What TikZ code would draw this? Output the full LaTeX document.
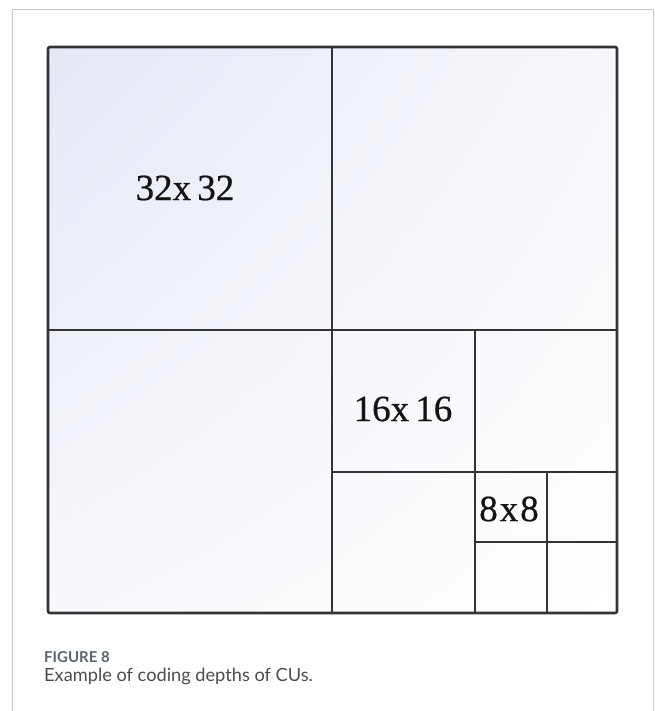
\documentclass[tikz,border=0pt]{standalone}
\usepackage{fontspec}
\usetikzlibrary{shadings}
\setmainfont{Liberation Serif}
\newfontfamily\capfont{Lato}
\newfontfamily\lblfont[FakeBold=0.6]{Liberation Serif}
\definecolor{tint}{RGB}{228,232,244}
\definecolor{tintb}{RGB}{247,248,252}
\definecolor{capblue}{RGB}{90,100,115}
\definecolor{frame}{RGB}{200,200,200}
\begin{document}
\begin{tikzpicture}[x=1pt,y=-1pt,
  grid/.style={draw=black!80, line width=2.6pt},
  lbl/.style={font=\lblfont\fontsize{37}{40}\selectfont, text=black!92, inner sep=0pt},
  captext/.style={anchor=base west, inner sep=0pt}]
\useasboundingbox (0,0) rectangle (654,711);
\draw[draw=frame, line width=1pt] (12.5,711) -- (12.5,9.5) -- (653,9.5) -- (653,711);
\shade[upper left=tint, upper right=tintb, lower left=tintb, lower right=white]
  (48,47) rectangle (617,613);
% grid lines
\coordinate (tl) at (48,47);
\coordinate (br) at (617,613);
\draw[grid] (332,47) -- (332,613);
\draw[grid] (48,330) -- (617,330);
\draw[grid] (475,330) -- (475,613);
\draw[grid] (332,472) -- (617,472);
\draw[grid] (547,472) -- (547,613);
\draw[grid] (475,542) -- (617,542);
\draw[grid, rounded corners=2pt] (tl) rectangle (br);
\node[lbl] (a) at (185,188) {32x\,32};
\node[lbl] (b) at (403,409) {16x\,16};
\node[lbl] (c) at (509,509) {8\kern2pt x\kern2pt 8};
\node[captext, text=capblue, font=\capfont\bfseries\fontsize{15}{18}\selectfont] (f) at (44,662) {FIGURE 8};
\node[captext, text=black!70, font=\capfont\fontsize{18.2}{22}\selectfont] (t) at (44,681) {Example of coding depths of CUs.};
\end{tikzpicture}
\end{document}
